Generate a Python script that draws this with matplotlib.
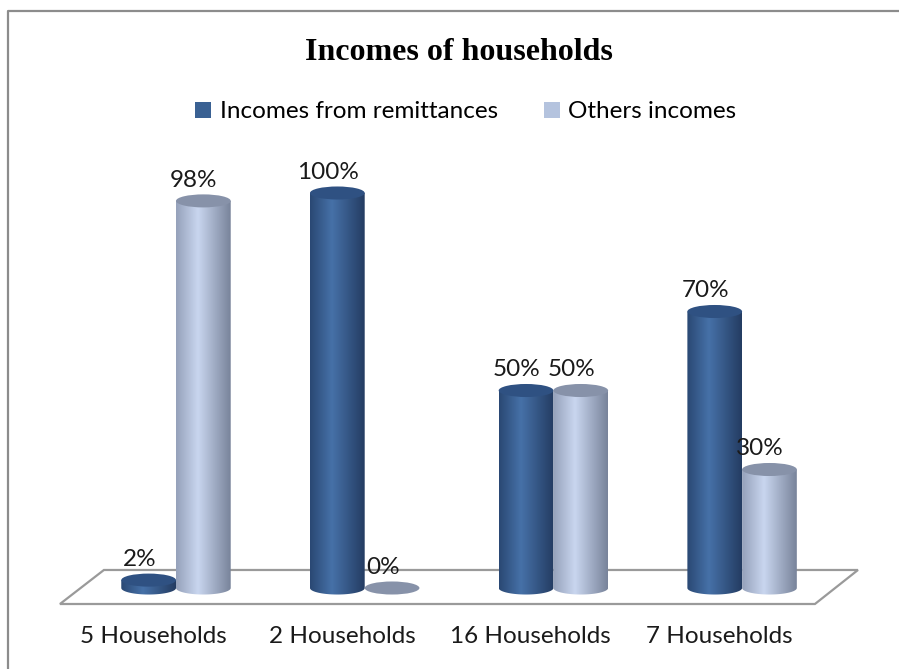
import numpy as np
import matplotlib
matplotlib.use("Agg")
import matplotlib.pyplot as plt
from matplotlib.patches import Ellipse, PathPatch, Patch, Polygon
from matplotlib.path import Path
from matplotlib.colors import LinearSegmentedColormap
from matplotlib.lines import Line2D

categories = ["5 Households", "2 Households", "16 Households", "7 Households"]
series_names = ["Incomes from remittances", "Others incomes"]
remittances = [2, 100, 50, 70]
others = [98, 0, 50, 30]
title = "Incomes of households"

# colours per series: (left, highlight, right) of the cylinder body, top, legend
body_cols = [["#2a4873", "#4671a8", "#243c62"], ["#95a1ba", "#c9d6ef", "#78839a"]]
top_cols = ["#2f5182", "#8792a9"]
legend_cols = ["#3a6193", "#b4c3de"]

fig = plt.figure(figsize=(8.99, 6.69), dpi=100)
ax = fig.add_axes([0, 0, 1, 1])
ax.set_xlim(-176 / 188.7, (899 - 176) / 188.7)
ax.set_ylim(-81 / 3.95, (669 - 81) / 3.95)
ax.axis("off")

ry = 3.3  # ellipse height in data units
bw = 0.29
n = len(categories)
x = np.arange(n)

# floor plane
floor = Polygon([(-0.615, -4.05), (-0.382, 4.56), (n - 0.386, 4.56), (n - 0.614, -4.05)],
                closed=True, facecolor="white", edgecolor="#9a9a9a", lw=1.6, zorder=1)
ax.add_patch(floor)

grad = np.linspace(0, 1, 256).reshape(1, -1)


def cylinder(rect, k, z):
    x0 = rect.get_x()
    w = rect.get_width()
    h = rect.get_height()
    x1 = x0 + w
    xc = x0 + w / 2
    if h > 0:
        t = np.linspace(0, np.pi, 40)
        bottom = np.column_stack([xc + w / 2 * np.cos(t), -ry / 2 * np.sin(t)])
        verts = [(x0, h), (x1, h)] + [tuple(p) for p in bottom] + [(x0, h)]
        codes = [Path.MOVETO] + [Path.LINETO] * (len(verts) - 2) + [Path.CLOSEPOLY]
        clip = PathPatch(Path(verts, codes), facecolor="none", edgecolor="none", zorder=z)
        ax.add_patch(clip)
        cmap = LinearSegmentedColormap.from_list(
            "c%d" % k, [(0, body_cols[k][0]), (0.4, body_cols[k][1]), (1, body_cols[k][2])])
        im = ax.imshow(grad, cmap=cmap, extent=[x0, x1, -ry / 2, h], aspect="auto",
                       interpolation="bilinear", zorder=z)
        im.set_clip_path(clip)
    ax.add_patch(Ellipse((xc, h), w, ry, facecolor=top_cols[k], edgecolor="none", zorder=z + 0.1))


for k, vals in enumerate([remittances, others]):
    offs = -bw / 2 if k == 0 else bw / 2
    bars = ax.bar(x + offs, vals, width=bw, color="none", zorder=2 + k)
    for rect, v in zip(bars, vals):
        cylinder(rect, k, 2 + k)
        ax.text(rect.get_x() + bw / 2 - 0.05, v + 2.6, "%d%%" % v, ha="center", va="bottom",
                fontsize=17.5, family="Lato", color="#1a1a1a", zorder=10)

for i, c in enumerate(categories):
    ax.text(i - 0.12, -12.2, c, ha="center", va="center", fontsize=17.5, family="Lato",
            color="#1a1a1a")

fig.text(459 / 899, 1 - 53 / 669, title, ha="center", va="center", fontsize=23,
         family="Liberation Serif", weight="bold")

handles = [Patch(facecolor=legend_cols[0]), Patch(facecolor=legend_cols[1])]
fig.legend(handles, series_names, loc="center", bbox_to_anchor=(466 / 899, 1 - 112 / 669), ncol=2,
           frameon=False, handlelength=0.65, handleheight=0.65, handletextpad=0.35,
           columnspacing=1.9, prop={"family": "Lato", "size": 17.5})

# chart frame
fig.add_artist(Line2D([8 / 899, 8 / 899, 1], [0, 1 - 11 / 669, 1 - 11 / 669],
                      transform=fig.transFigure, color="#8c8c8c", lw=1.6))

fig.savefig("out.png", dpi=100)
